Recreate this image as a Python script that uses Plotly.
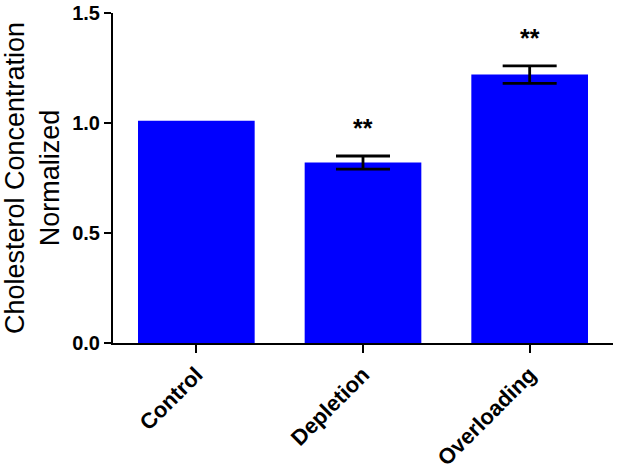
import plotly.graph_objects as go

categories = ["Control", "Depletion", "Overloading"]
values = [1.01, 0.82, 1.22]
errors = [None, 0.03, 0.04]
significance = ["", "**", "**"]
y_ticks = [0.0, 0.5, 1.0, 1.5]

fig = go.Figure()
fig.add_trace(go.Bar(
    x=categories, y=values,
    marker=dict(color="#0000FF", line=dict(width=0)),
    width=0.7,
))

# error bars only where an error value exists
err_x = [c for c, e in zip(categories, errors) if e is not None]
err_y = [v for v, e in zip(values, errors) if e is not None]
err_v = [e for e in errors if e is not None]
fig.add_trace(go.Scatter(
    x=err_x, y=err_y, mode="markers", marker=dict(opacity=0, size=1),
    error_y=dict(type="data", array=err_v, visible=True, color="black",
                 thickness=2.8, width=27),
    hoverinfo="skip",
))

for c, v, e, s in zip(categories, values, errors, significance):
    if s:
        fig.add_annotation(x=c, y=v + (e or 0), text=s, showarrow=False,
                           yanchor="bottom", yshift=12,
                           font=dict(family="Liberation Sans, Arial", size=25, color="black", weight="bold"))

axis_font = dict(family="Liberation Sans, Arial", size=20, color="black", weight="bold")
fig.update_layout(
    width=618, height=469,
    margin=dict(l=113, r=5, t=13, b=126),
    plot_bgcolor="white", paper_bgcolor="white",
    showlegend=False,
    xaxis=dict(range=[-0.5, 2.5], showline=True, linecolor="black", linewidth=2,
               ticks="outside", ticklen=8, tickwidth=2, tickcolor="black",
               tickangle=-45, tickfont=dict(family="Liberation Sans, Arial", size=22, color="black", weight="bold"),
               showgrid=False, zeroline=False, automargin=False),
    yaxis=dict(range=[0, 1.5], tickvals=y_ticks, tickformat=".1f",
               showline=True, linecolor="black", linewidth=2,
               ticks="outside", ticklen=7, tickwidth=2, tickcolor="black",
               tickfont=axis_font, showgrid=False, zeroline=False, automargin=False,
               title=dict(text="Cholesterol Concentration<br>Normalized",
                          font=dict(family="Liberation Sans, Arial", size=27, color="black"))),
)

fig.write_html("out.html", config={"displayModeBar": False},
               post_script="document.body.style.margin='0';document.body.style.overflow='hidden';")
